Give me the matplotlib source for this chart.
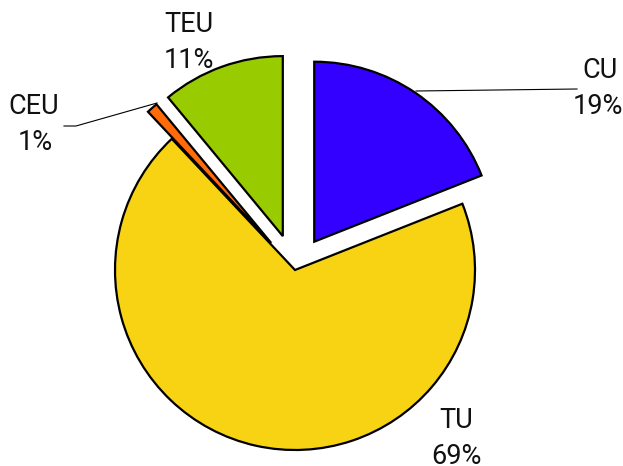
import matplotlib
matplotlib.use("Agg")
import matplotlib.pyplot as plt

categories = ["CU", "TU", "CEU", "TEU"]
values = [19, 69, 1, 11]
pct_labels = ["19%", "69%", "1%", "11%"]
colors = ["#3300FF", "#F8D313", "#FF6A0A", "#99CC00"]
explode = [0.19, 0.0, 0.2, 0.2]

W, H = 623, 466
fig = plt.figure(figsize=(W / 100, H / 100), dpi=100)
ax = fig.add_axes([0, 0, 1, 1])

cx, cy, r = 295, H - 270, 180
ax.pie(values, colors=colors, explode=[e * r for e in explode], startangle=90,
       counterclock=False, center=(cx, cy), radius=r, frame=True,
       wedgeprops=dict(edgecolor="black", linewidth=1.6))
ax.set_xlim(0, W)
ax.set_ylim(0, H)
ax.set_aspect("equal")
ax.axis("off")

font = dict(family=["Roboto", "DejaVu Sans"], fontweight="normal",
            fontsize=19.5, color="#111111", ha="center", va="center")

def Y(p):
    return H - p

label_pos = {"CU": (600, 70, 598, 106),
             "TU": (456, 420, 456, 457),
             "CEU": (34, 106, 35, 142),
             "TEU": (189, 25, 189, 61)}
for cat, pct in zip(categories, pct_labels):
    x1, y1, x2, y2 = label_pos[cat]
    ax.text(x1, Y(y1), cat, **font)
    ax.text(x2, Y(y2), pct, **font)

ax.plot([416, 577], [Y(91), Y(89)], color="black", lw=0.8)
ax.plot([157, 76, 64], [Y(103), Y(126), Y(126)], color="black", lw=0.8)

fig.savefig("out.png", dpi=100)
